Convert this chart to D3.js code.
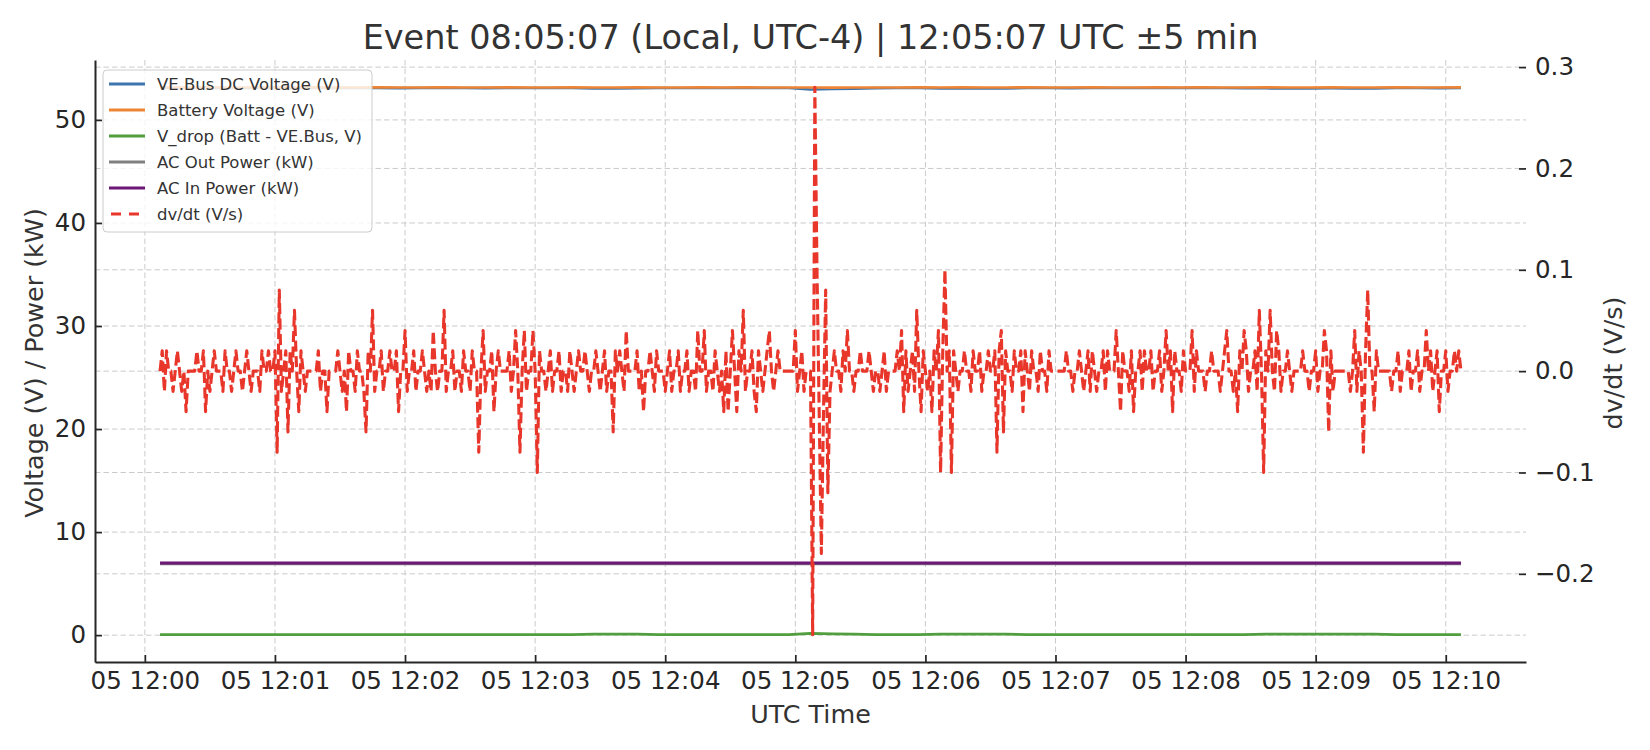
<!DOCTYPE html>
<html><head><meta charset="utf-8">
<script src="https://cdn.jsdelivr.net/npm/d3@7"></script>
<style>
body{margin:0;background:#fff}
svg{display:block}
text{font-family:"DejaVu Sans",sans-serif}
</style>
</head><body>
<svg id="chart" width="1650" height="750"></svg>
<script>
// ---------------- DATA ----------------
const titleText = "Event 08:05:07 (Local, UTC-4) | 12:05:07 UTC ±5 min";
const xLabel = "UTC Time";
const yLeftLabel = "Voltage (V) / Power (kW)";
const yRightLabel = "dv/dt (V/s)";

const fastStartUTC = "2025-08-05T12:00:07Z";   // dv/dt samples, 1 s apart
const fastStepSec = 1;
const dvdt = [
0,.02,-.02,.02,0,0,-.02,0,.02,0,-.02,0,-.04,0,0,0,0,.02,0,0,
.02,-.04,0,-.02,0,.02,0,0,0,-.02,.02,0,0,-.02,0,.02,0,0,-.02,0,
.02,0,-.02,0,0,0,-.02,.02,0,0,.02,0,0,.02,-.08,.08,-.02,0,.02,-.06,
.02,0,.06,0,-.04,.02,0,-.02,0,0,0,0,0,.02,-.02,0,0,-.04,0,0,
0,0,.02,0,-.02,0,-.04,.02,0,0,-.02,.02,0,0,-.02,-.06,.02,0,.06,-.02,
0,0,.02,-.02,0,0,.02,0,0,.02,-.04,0,0,.04,-.02,0,0,.02,-.02,0,
0,.02,0,-.02,0,-.02,.04,0,-.02,0,0,.06,-.02,0,0,.02,-.02,0,0,-.02,
.02,0,0,-.02,.02,0,0,-.08,0,.04,-.02,0,0,.02,-.04,0,.02,0,0,0,
0,.02,-.02,0,.04,0,-.08,0,.04,-.02,0,0,.04,0,-.1,.02,0,0,-.02,0,
.02,-.02,0,0,.02,-.02,0,0,-.02,.02,0,-.02,0,.02,0,0,.02,0,-.02,0,
0,.02,0,-.02,0,.02,-.02,0,0,-.06,.02,0,.02,0,-.02,.04,0,0,0,0,
.02,-.02,0,-.04,0,0,.02,0,-.02,.02,0,0,0,-.02,0,.02,-.02,0,0,.02,
-.02,0,0,.02,-.02,0,0,-.02,.04,0,0,.04,-.02,0,0,-.02,.02,0,-.02,0,
-.04,.02,-.04,0,.04,0,-.04,.02,0,.06,-.02,0,0,.02,-.02,-.04,.02,0,-.02,0,
.02,.04,0,-.02,0,.02,0,0,0,0,0,0,0,.04,-.02,0,.02,-.02,0,0,
0,-.26,.28,.1,-.04,-.18,-.04,.08,-.12,-.02,0,.02,0,0,-.02,.02,0,.04,0,0,
-.02,0,0,.02,0,0,0,.02,0,-.02,0,0,-.02,0,.02,-.02,0,0,0,0,
.02,0,.04,-.04,.02,-.02,0,.02,-.02,.06,0,-.04,.02,0,-.02,0,-.04,.02,0,.04,
-.1,.02,.1,0,.02,-.1,.02,0,-.02,0,0,.02,0,0,-.02,.02,0,0,.02,-.02,
0,0,.02,0,0,.02,-.08,.02,.04,-.06,.02,0,0,-.02,.02,0,0,.02,-.04,.02,
0,-.02,.02,0,0,-.02,.02,0,0,-.02,.02,0,0,0,0,0,0,0,.02,0,
0,-.02,0,0,.02,0,-.02,0,.02,-.02,.02,0,-.02,0,0,.02,-.02,.02,0,0,
0,.04,0,-.04,.02,0,0,-.02,.02,-.04,0,0,.02,-.02,.02,0,0,.02,-.02,0,
0,.02,-.02,0,.04,0,.02,-.04,.02,0,0,-.02,.02,0,0,0,.04,-.02,.02,0,
0,0,-.02,0,0,.02,0,0,0,-.02,0,.02,.04,0,0,-.02,0,-.04,.02,0,
.04,.02,-.02,0,0,.02,-.02,.06,0,-.1,.02,0,.06,0,-.02,.04,.02,-.02,0,0,
.02,0,-.02,0,0,0,0,.02,0,0,-.02,0,0,.02,-.02,0,0,.04,.02,-.06,
.02,-.02,0,0,0,0,0,0,0,-.02,0,.04,-.02,.02,0,-.08,.02,.08,0,0,
-.04,.02,0,0,0,0,0,0,-.02,0,0,.02,-.02,0,0,0,.02,-.02,0,0,
.02,-.02,0,0,.04,0,.02,-.02,0,.02,-.04,0,0,.02,-.02,0,0,.02,0,.02,
0
];

const slowStartUTC = "2025-08-05T12:00:07Z";   // voltage samples, 10 s apart
const slowStepSec = 10;
const batteryV = [
53.16,53.15,53.16,53.15,53.15,53.16,53.15,53.16,53.15,53.15,
53.16,53.15,53.15,53.16,53.15,53.15,53.16,53.15,53.15,53.16,
53.15,53.15,53.16,53.15,53.15,53.16,53.15,53.16,53.15,53.15,
53.14,53.13,53.14,53.15,53.15,53.16,53.15,53.16,53.15,53.15,
53.16,53.15,53.15,53.16,53.15,53.15,53.16,53.15,53.16,53.15,
53.15,53.16,53.15,53.15,53.16,53.15,53.15,53.16,53.15,53.15,53.16];
const vebusV = [
53.11,53.10,53.10,53.10,53.10,53.11,53.09,53.11,53.10,53.10,
53.11,53.09,53.10,53.11,53.10,53.09,53.11,53.10,53.10,53.10,
53.06,53.05,53.07,53.10,53.10,53.10,53.10,53.11,53.10,53.10,
52.96,53.01,53.04,53.09,53.10,53.11,53.06,53.06,53.06,53.05,
53.11,53.10,53.09,53.11,53.10,53.10,53.10,53.10,53.11,53.10,
53.09,53.07,53.05,53.05,53.07,53.05,53.06,53.11,53.10,53.09,53.11];
const vDrop = [
0.05,0.05,0.06,0.05,0.05,0.05,0.06,0.05,0.05,0.05,
0.05,0.06,0.05,0.05,0.05,0.06,0.05,0.05,0.05,0.06,
0.09,0.10,0.09,0.05,0.05,0.06,0.05,0.05,0.05,0.05,
0.18,0.12,0.10,0.06,0.05,0.05,0.09,0.10,0.09,0.10,
0.05,0.05,0.06,0.05,0.05,0.05,0.06,0.05,0.05,0.05,
0.06,0.09,0.10,0.10,0.09,0.10,0.09,0.05,0.05,0.06,0.05];

const powerStartUTC = "2025-08-05T12:00:07Z";  // power samples, 60 s apart
const powerStepSec = 60;
const acOutKW = [6.93,6.93,6.93,6.93,6.93,6.93,6.93,6.93,6.93,6.93,6.93];
const acInKW  = [7.01,7.01,7.01,7.01,7.01,7.01,7.01,7.01,7.01,7.01,7.01];

const leftTicks = [0,10,20,30,40,50];
const rightTicks = [-0.2,-0.1,0.0,0.1,0.2,0.3];
const xTicksUTC = ["2025-08-05T12:00:00Z","2025-08-05T12:01:00Z","2025-08-05T12:02:00Z",
  "2025-08-05T12:03:00Z","2025-08-05T12:04:00Z","2025-08-05T12:05:00Z","2025-08-05T12:06:00Z",
  "2025-08-05T12:07:00Z","2025-08-05T12:08:00Z","2025-08-05T12:09:00Z","2025-08-05T12:10:00Z"];

const seriesNames = ["VE.Bus DC Voltage (V)","Battery Voltage (V)","V_drop (Batt - VE.Bus, V)",
  "AC Out Power (kW)","AC In Power (kW)","dv/dt (V/s)"];
const seriesColors = ["#3b76af","#ee8536","#509e3d","#808080","#6d1776","#e8362b"];

// ---------------- LAYOUT ----------------
const P = {left:95, right:1526, top:60, bottom:662};
const svg = d3.select("#chart");

function series(startIso, stepSec, arr){
  const t0 = new Date(startIso).getTime();
  return arr.map((v,i)=>({t:new Date(t0+i*stepSec*1000), v}));
}
const dVbus = series(slowStartUTC, slowStepSec, vebusV);
const dBatt = series(slowStartUTC, slowStepSec, batteryV);
const dDrop = series(slowStartUTC, slowStepSec, vDrop);
const dOut = series(powerStartUTC, powerStepSec, acOutKW);
const dIn = series(powerStartUTC, powerStepSec, acInKW);
const dDv = series(fastStartUTC, fastStepSec, dvdt);

function padded(ext){ const r = ext[1]-ext[0]; return [ext[0]-0.05*r, ext[1]+0.05*r]; }

const allT = dDv.map(d=>d.t).concat(dBatt.map(d=>d.t));
const xExt = padded(d3.extent(allT, d=>d.getTime()));
const x = d3.scaleUtc().domain([new Date(xExt[0]), new Date(xExt[1])]).range([P.left, P.right]);

const leftVals = [].concat(vebusV, batteryV, vDrop, acOutKW, acInKW);
const yL = d3.scaleLinear().domain(padded(d3.extent(leftVals))).range([P.bottom, P.top]);
const yR = d3.scaleLinear().domain(padded(d3.extent(dvdt))).range([P.bottom, P.top]);

const xTicks = xTicksUTC.map(s=>new Date(s));
const gridColor = "#cacaca";

// grids
const grid = svg.append("g");
grid.selectAll("line.gx").data(xTicks).join("line")
  .attr("x1",d=>x(d)).attr("x2",d=>x(d)).attr("y1",P.top).attr("y2",P.bottom)
  .attr("stroke",gridColor).attr("stroke-width",1).attr("stroke-dasharray","5.5,3");
grid.selectAll("line.gl").data(leftTicks).join("line")
  .attr("x1",P.left).attr("x2",P.right).attr("y1",d=>yL(d)).attr("y2",d=>yL(d))
  .attr("stroke",gridColor).attr("stroke-width",1).attr("stroke-dasharray","5.5,3");
grid.selectAll("line.gr").data(rightTicks).join("line")
  .attr("x1",P.left).attr("x2",P.right).attr("y1",d=>yR(d)).attr("y2",d=>yR(d))
  .attr("stroke",gridColor).attr("stroke-width",1).attr("stroke-dasharray","5.5,3");

// lines on left axis
const lineL = d3.line().x(d=>x(d.t)).y(d=>yL(d.v));
const leftSeries = [[dVbus,0,2.6],[dBatt,1,2.6],[dDrop,2,2.8],[dOut,3,3],[dIn,4,3]];
leftSeries.forEach(([d,i,w])=>{
  svg.append("path").datum(d).attr("d",lineL).attr("fill","none")
    .attr("stroke",seriesColors[i]).attr("stroke-width",w).attr("stroke-linejoin","round");
});
// dv/dt on right axis
const lineR = d3.line().x(d=>x(d.t)).y(d=>yR(d.v));
svg.append("path").datum(dDv).attr("d",lineR).attr("fill","none")
  .attr("stroke",seriesColors[5]).attr("stroke-width",3.1)
  .attr("stroke-dasharray","11,4.5").attr("stroke-linejoin","round");

// axes
const tickFont = "24.5px";
const ax = svg.append("g");
const gLeft = ax.append("g").attr("transform",`translate(${P.left},0)`)
  .call(d3.axisLeft(yL).tickValues(leftTicks).tickFormat(d3.format("d")).tickSizeInner(-7).tickSizeOuter(0).tickPadding(9));
const gBottom = ax.append("g").attr("transform",`translate(0,${P.bottom})`)
  .call(d3.axisBottom(x).tickValues(xTicks).tickFormat(d3.utcFormat("%d %H:%M")).tickSizeInner(-7).tickSizeOuter(0).tickPadding(10));
const gRight = ax.append("g").attr("transform",`translate(${P.right},0)`)
  .call(d3.axisRight(yR).tickValues(rightTicks).tickFormat(d=>d3.format(".1f")(d).replace("-","\u2212")).tickSizeInner(-7).tickSizeOuter(0).tickPadding(9));
gRight.select(".domain").remove();
[gLeft,gBottom,gRight].forEach(g=>{
  g.selectAll("text").attr("font-size",tickFont).attr("fill","#262626").attr("font-family","DejaVu Sans");
  g.selectAll(".tick line").attr("stroke","#262626").attr("stroke-width",1.7);
  g.select(".domain").attr("stroke","#262626").attr("stroke-width",2);
});

// labels
svg.append("text").attr("x",(P.left+P.right)/2).attr("y",49).attr("text-anchor","middle")
  .attr("font-size","33.5px").attr("fill","#333").text(titleText);
svg.append("text").attr("x",(P.left+P.right)/2).attr("y",723).attr("text-anchor","middle")
  .attr("font-size","25.4px").attr("fill","#333").text(xLabel);
svg.append("text").attr("transform","translate(34,363) rotate(-90)").attr("dy","0.35em")
  .attr("text-anchor","middle").attr("font-size","25.4px").attr("fill","#333").text(yLeftLabel);
svg.append("text").attr("transform","translate(1613,363) rotate(-90)").attr("dy","0.35em")
  .attr("text-anchor","middle").attr("font-size","25.4px").attr("fill","#333").text(yRightLabel);

// legend
const lg = svg.append("g");
lg.append("rect").attr("x",103).attr("y",70).attr("width",269).attr("height",162).attr("rx",4)
  .attr("fill","#fff").attr("fill-opacity",0.8).attr("stroke","#cccccc").attr("stroke-width",1);
seriesNames.forEach((name,i)=>{
  const cy = 84 + i*26;
  lg.append("line").attr("x1",109).attr("x2",145).attr("y1",cy).attr("y2",cy)
    .attr("stroke",seriesColors[i]).attr("stroke-width",i===5?3.1:2.8)
    .attr("stroke-dasharray", i===5 ? "10,8" : null).attr("stroke-dashoffset", i===5 ? -2 : null);
  lg.append("text").attr("x",157).attr("y",cy).attr("dy","0.35em")
    .attr("font-size","16.5px").attr("fill","#333").text(name);
});
</script>
</body></html>
